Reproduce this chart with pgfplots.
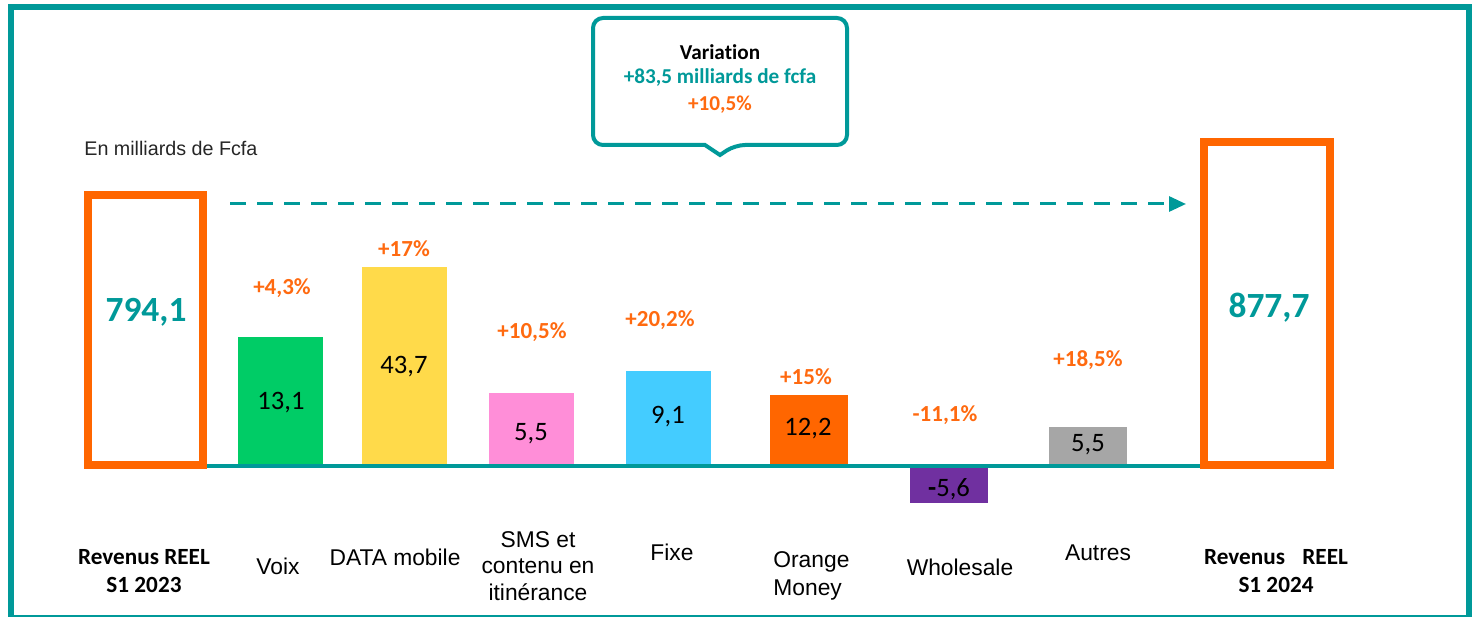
\documentclass[border=0pt]{standalone}
\usepackage{pgfplots}
\pgfplotsset{compat=1.18}
\usetikzlibrary{arrows.meta}
\usepackage{fontspec}
\setmainfont{Liberation Sans}
\newfontfamily\calib[Ligatures=NoCommon]{Carlito}
\definecolor{tealc}{HTML}{009999}
\definecolor{orng}{HTML}{FF6600}
\definecolor{orngtxt}{HTML}{FF6A10}
\definecolor{cgreen}{HTML}{00CC66}
\definecolor{cyellow}{HTML}{FFDA4A}
\definecolor{cpink}{HTML}{FF8ED8}
\definecolor{cblue}{HTML}{44CCFF}
\definecolor{cpurple}{HTML}{7030A0}
\definecolor{cgray}{HTML}{A6A6A6}
\newcommand{\pct}[1]{{\calib\bfseries\fontsize{11.5}{13}\selectfont\color{orngtxt}#1}}
\newcommand{\val}[1]{{\calib\fontsize{13.3}{15}\selectfont #1}}
\newcommand{\bigv}[1]{{\calib\bfseries\fontsize{17.7}{20}\selectfont\color{tealc}#1}}
\begin{document}
\begin{tikzpicture}
\begin{axis}[width=736.5pt,height=308pt,scale only axis,hide axis,clip=false,
  xmin=0,xmax=1473,ymin=-151,ymax=465]
% frame
\draw[tealc,line width=3pt] (11,458) rectangle (1469,-153);
% category bars (visual heights)
\addplot[ybar,bar shift=0pt,bar width=85,fill=cgreen,draw=none] coordinates {(280.5,128)};
\addplot[ybar,bar shift=0pt,bar width=85,fill=cyellow,draw=none] coordinates {(404.5,198)};
\addplot[ybar,bar shift=0pt,bar width=85,fill=cpink,draw=none] coordinates {(531.5,72)};
\addplot[ybar,bar shift=0pt,bar width=85,fill=cblue,draw=none] coordinates {(668.5,94)};
\addplot[ybar,bar shift=0pt,bar width=78,fill=orng,draw=none] coordinates {(809,70)};
\addplot[ybar,bar shift=0pt,bar width=78,fill=cpurple,draw=none] coordinates {(949,-38)};
\addplot[ybar,bar shift=0pt,bar width=78,fill=cgray,draw=none] coordinates {(1088,38)};
% baseline
\draw[tealc,line width=2pt] (205,-1) -- (1202,-1);
% total boxes
\addplot[ybar,bar shift=0pt,bar width=115,fill=white,draw=orng,line width=4pt] coordinates {(145.5,270)};
\addplot[ybar,bar shift=0pt,bar width=126,fill=white,draw=orng,line width=4pt] coordinates {(1267,323)};
% dashed arrow
\draw[tealc,line width=1.5pt,dash pattern=on 8pt off 5.5pt,-{Triangle[length=8.5pt,width=7.5pt]}] (230,261) -- (1186,261);
% callout
\draw[tealc,line width=2pt,fill=white,rounded corners=5pt] (593,447) -- (847,447) -- (847,320) -- (735,320) [sharp corners] -- (720,310) -- (705,320) [rounded corners=5pt] -- (593,320) -- cycle;
\node[font=\calib\bfseries\fontsize{10.6}{12}\selectfont] at (720,413) {Variation};
\node[font=\calib\bfseries\fontsize{10.6}{12}\selectfont,text=tealc] at (720,387) {+83,5 milliards de fcfa};
\node[font=\calib\bfseries\fontsize{10.6}{12}\selectfont,text=orngtxt] at (720,360) {+10,5\%};
% unit
\node[anchor=west,inner sep=0pt,font=\fontsize{9.85}{12}\selectfont,text=black!85] at (84,317) {En milliards de Fcfa};
% totals
\node at (146,153) {\bigv{794,1}};
\node at (1269,157) {\bigv{877,7}};
% values
\node at (281,62) {\val{13,1}};
\node at (404,98) {\val{43,7}};
\node at (531,31) {\val{5,5}};
\node at (668,48) {\val{9,1}};
\node at (808,36) {\val{12,2}};
\node at (949,-24) {\val{{\bfseries -}5,6}};
\node at (1088,20) {\val{5,5}};
% percents
\node at (282,177) {\pct{+4,3\%}};
\node at (404,216) {\pct{+17\%}};
\node at (532,133) {\pct{+10,5\%}};
\node at (660,145) {\pct{+20,2\%}};
\node at (806,88) {\pct{+15\%}};
\node at (945,50) {\pct{-11,1\%}};
\node at (1088,105) {\pct{+18,5\%}};
% categories
\node[align=center,font=\calib\bfseries\fontsize{11.6}{14}\selectfont] at (144,-106) {Revenus REEL\\S1 2023};
\node[font=\fontsize{11.4}{13}\selectfont] at (278,-101) {Voix};
\node[font=\fontsize{11.4}{13}\selectfont] at (395,-92) {DATA mobile};
\node[align=center,font=\fontsize{11.4}{13.2}\selectfont] at (538,-101) {SMS et\\contenu en\\itinérance};
\node[font=\fontsize{11.4}{13}\selectfont] at (672,-87) {Fixe};
\node[align=left,anchor=west,inner sep=0pt,font=\fontsize{11.4}{14.3}\selectfont] at (773,-111) {Orange\\Money};
\node[font=\fontsize{11.4}{13}\selectfont] at (960,-102) {Wholesale};
\node[font=\fontsize{11.4}{13}\selectfont] at (1098,-88) {Autres};
\node[align=center,font=\calib\bfseries\fontsize{11.6}{14}\selectfont] at (1276,-106) {Revenus\hspace{0.75em}REEL\\S1 2024};
\end{axis}
\pgfresetboundingbox
\path[use as bounding box] (current axis.south west) rectangle (current axis.north east);
\end{tikzpicture}
\end{document}
